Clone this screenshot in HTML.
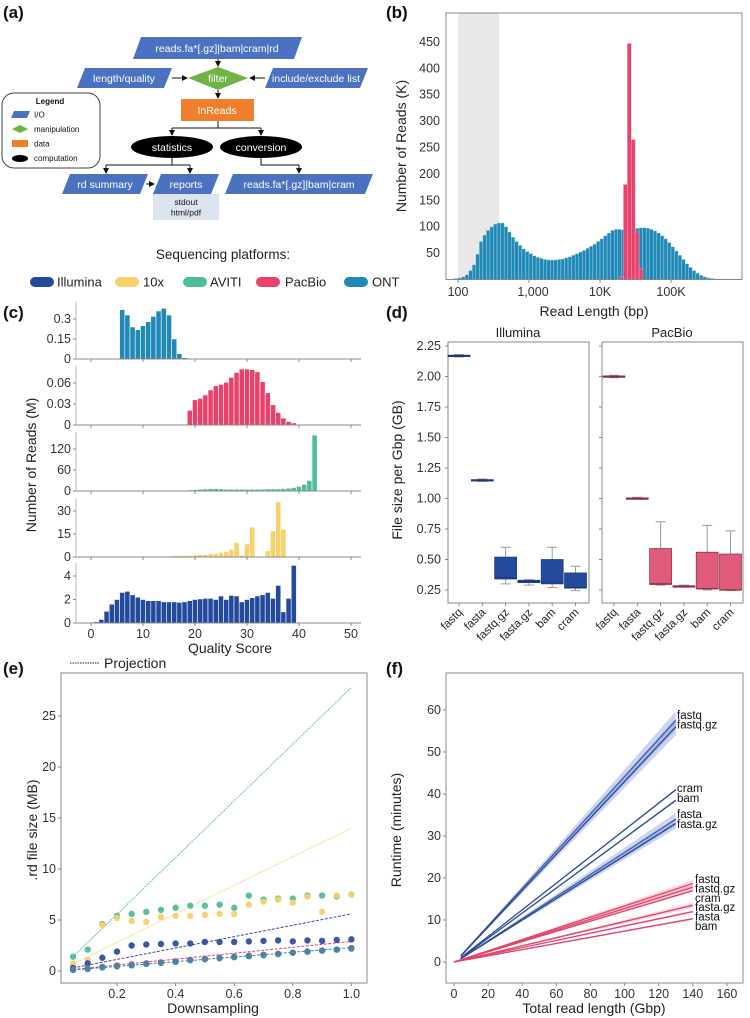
<!DOCTYPE html>
<html><head><meta charset="utf-8"><style>
html,body{margin:0;padding:0;background:#fff;}
svg{display:block;font-family:"Liberation Sans",sans-serif;}
</style></head><body>
<svg id="fig" width="750" height="1018" viewBox="0 0 750 1018">
<defs><marker id="arr" markerWidth="6" markerHeight="6" refX="5" refY="3" orient="auto"><path d="M0,0 L6,3 L0,6 z" fill="#111"/></marker></defs>
<g font-size="10.5">
<text x="3" y="18" font-size="17" font-weight="bold" fill="#111">(a)</text>
<polygon points="141,37 302,37 294,59 133,59" fill="#4a72c0"/>
<text x="217" y="52" fill="#fff" text-anchor="middle">reads.fa*[.gz]|bam|cram|rd</text>
<line x1="218" y1="59" x2="218" y2="66" stroke="#111" marker-end="url(#arr)"/>
<polygon points="85,68 172,68 164,88 77,88" fill="#4a72c0"/>
<text x="124" y="82" fill="#fff" text-anchor="middle">length/quality</text>
<line x1="172" y1="78" x2="187" y2="78" stroke="#111" marker-end="url(#arr)"/>
<polygon points="188,78 218,67 248,78 218,90" fill="#6fb345"/>
<text x="218" y="82" fill="#fff" text-anchor="middle">filter</text>
<polygon points="273,68 368,68 360,88 265,88" fill="#4a72c0"/>
<text x="316" y="82" fill="#fff" text-anchor="middle">include/exclude list</text>
<line x1="265" y1="78" x2="250" y2="78" stroke="#111" marker-end="url(#arr)"/>
<line x1="218" y1="90" x2="218" y2="98" stroke="#111" marker-end="url(#arr)"/>
<rect x="181" y="99" width="73" height="22" fill="#f07f2c"/>
<text x="217" y="114" fill="#fff" text-anchor="middle">InReads</text>
<path d="M218,121 V128 M172,128 H261" stroke="#111" fill="none"/>
<line x1="172" y1="128" x2="172" y2="135" stroke="#111" marker-end="url(#arr)"/>
<line x1="261" y1="128" x2="261" y2="135" stroke="#111" marker-end="url(#arr)"/>
<ellipse cx="172" cy="147" rx="41" ry="11" fill="#000"/>
<text x="172" y="151" fill="#fff" text-anchor="middle">statistics</text>
<ellipse cx="261" cy="147" rx="41" ry="11" fill="#000"/>
<text x="261" y="151" fill="#fff" text-anchor="middle">conversion</text>
<path d="M172,158 V165 M106,165 H190 M261,158 V165 H299" stroke="#111" fill="none"/>
<line x1="106" y1="165" x2="106" y2="173" stroke="#111" marker-end="url(#arr)"/>
<line x1="190" y1="165" x2="190" y2="173" stroke="#111" marker-end="url(#arr)"/>
<line x1="299" y1="165" x2="299" y2="173" stroke="#111" marker-end="url(#arr)"/>
<polygon points="70,174 148,174 140,194 62,194" fill="#4a72c0"/>
<text x="105" y="188" fill="#fff" text-anchor="middle">rd summary</text>
<line x1="146" y1="184" x2="154" y2="184" stroke="#111" marker-end="url(#arr)"/>
<polygon points="161,174 219,174 211,194 153,194" fill="#4a72c0"/>
<text x="186" y="188" fill="#fff" text-anchor="middle">reports</text>
<rect x="153" y="194" width="66" height="26" fill="#dce4f0"/>
<text x="186" y="205" fill="#111" font-size="8.5" text-anchor="middle">stdout</text>
<text x="186" y="215.5" fill="#111" font-size="8.5" text-anchor="middle">html/pdf</text>
<polygon points="233,174 373,174 365,194 225,194" fill="#4a72c0"/>
<text x="299" y="188" fill="#fff" text-anchor="middle">reads.fa*[.gz]|bam|cram</text>
<g font-size="8" fill="#111">
<rect x="2" y="93" width="98" height="75" rx="12" fill="#fff" stroke="#444"/>
<text x="50" y="104" text-anchor="middle" font-weight="bold">Legend</text>
<polygon points="14,111 30,111 27,118 11,118" fill="#4a72c0"/>
<text x="34" y="117.5">I/O</text>
<polygon points="12,129 20,125 28,129 20,133" fill="#6fb345"/>
<text x="34" y="132">manipulation</text>
<rect x="12" y="140" width="16" height="7" fill="#f07f2c"/>
<text x="34" y="146.5">data</text>
<ellipse cx="20" cy="158.5" rx="8" ry="3.5" fill="#000"/>
<text x="34" y="161">computation</text>
</g>
</g>
<g font-size="13" fill="#222">
<text x="223" y="259" font-size="13.5" text-anchor="middle">Sequencing platforms:</text>
<rect x="30" y="277" width="24" height="10" rx="5" fill="#234a9c"/><text x="57" y="286.5">Illumina</text>
<rect x="115" y="277" width="24" height="10" rx="5" fill="#f9d16b"/><text x="143" y="286.5">10x</text>
<rect x="183" y="277" width="24" height="10" rx="5" fill="#4dbf94"/><text x="210" y="286.5">AVITI</text>
<rect x="256" y="277" width="24" height="10" rx="5" fill="#e8426b"/><text x="285" y="286.5">PacBio</text>
<rect x="344" y="277" width="24" height="10" rx="5" fill="#2089b5"/><text x="372" y="286.5">ONT</text>
</g>
</svg>
<script>
// ---------- data ----------
const ontLenStartLog = 1.9;
const ontLenBinLog = 0.05;
const ontLenCounts = [1,2,3,5,9,17,28,48,72,84,93,100,105,107,107,100,90,80,72,65,58,53,49,45,42,40,38,37,37,37,38,39,41,43,46,49,52,55,59,63,67,72,77,83,88,93,95,95,94,93,94,95,97,98,98,97,95,92,88,83,77,70,62,54,46,38,30,23,17,12,8,5,3,2,1,1,0,0];
const pacLenStartLog = 4.275;
const pacLenBinLog = 0.055;
const pacLenCounts = [5,180,447,265,90,20];
const bYTicks = [50,100,150,200,250,300,350,400,450];
const bXTickVals = [2,3,4,5];
const bXTickLabels = ['100','1,000','10K','100K'];

const qTicks = [0,10,20,30,40,50];
const ontQStart = 6;
const ontQ = [0.37,0.33,0.24,0.22,0.25,0.28,0.32,0.36,0.38,0.33,0.15,0.04,0.01,0.003,0.002,0.002,0.002,0.002,0.002,0.002,0.002,0.002,0.002,0.001];
const pacQStart = 19;
const pacQ = [0.021,0.036,0.038,0.043,0.050,0.056,0.058,0.061,0.068,0.075,0.080,0.080,0.079,0.076,0.062,0.046,0.029,0.018,0.010,0.005,0.003,0.001];
const avitiQStart = 18;
const avitiQ = [2,3,4,5,6,7,7,6,5,5,5,5,5,5,5,5,6,6,6,7,8,10,13,19,30,160];
const tenxQStart = 14;
const tenxQ = [0.5,0.6,0.8,1,1,1,1.2,1.5,1.7,2,2.2,3,3.5,5,9.5,1,8.5,19.5,0,0,4,17,36,18];
const illQStart = 1;
const illQ = [0.1,0.3,1.0,1.6,2.0,2.6,2.7,2.4,2.2,2.0,1.9,1.9,1.9,1.8,1.8,1.8,1.75,1.8,1.9,2.0,2.05,2.1,2.1,2.0,2.3,2.0,2.35,2.3,1.8,2.0,2.15,2.3,2.4,2.6,2.1,3.2,0.95,2.1,4.9];
const ontQTicks = [0,0.15,0.3];
const pacQTicks = [0,0.03,0.06];
const avitiQTicks = [0,60,120];
const tenxQTicks = [0,15,30];
const illQTicks = [0,2,4];

const dCats = ['fastq','fasta','fastq.gz','fasta.gz','bam','cram'];
const dYTicks = [0.25,0.5,0.75,1.0,1.25,1.5,1.75,2.0,2.25];
// [min,q1,median,q3,max]
const illSizes = [[2.16,2.165,2.17,2.175,2.18],[1.14,1.145,1.15,1.155,1.16],[0.30,0.34,0.35,0.52,0.60],[0.29,0.31,0.32,0.33,0.335],[0.27,0.30,0.31,0.50,0.60],[0.245,0.265,0.27,0.39,0.445]];
const pacSizes = [[1.99,1.995,2.0,2.005,2.01],[0.995,1.0,1.0,1.005,1.01],[0.29,0.295,0.30,0.59,0.81],[0.275,0.278,0.28,0.285,0.29],[0.25,0.26,0.26,0.56,0.78],[0.245,0.25,0.25,0.545,0.735]];

const eX = [0.05,0.1,0.15,0.2,0.25,0.3,0.35,0.4,0.45,0.5,0.55,0.6,0.65,0.7,0.75,0.8,0.85,0.9,0.95,1.0];
const eAviti = [1.4,2.1,4.6,5.4,5.6,5.8,6.0,6.2,6.4,6.4,6.5,6.2,7.4,7.0,7.1,7.1,7.4,7.4,7.3,7.5];
const eTenx = [0.7,1.1,4.5,5.2,4.9,4.8,5.3,5.4,5.4,5.5,5.6,5.6,6.5,6.8,7.0,6.7,7.3,5.8,7.4,7.5];
const eIll = [0.3,0.75,1.3,1.9,2.5,2.6,2.65,2.7,2.7,2.85,2.85,2.85,2.9,2.95,3.0,2.9,3.0,2.95,3.05,3.1];
const ePac = [0.15,0.25,0.4,0.55,0.65,0.75,0.85,0.95,1.1,1.2,1.3,1.4,1.5,1.6,1.7,1.8,1.9,2.0,2.1,2.25];
const eOnt = [0.1,0.2,0.35,0.45,0.55,0.7,0.8,0.9,1.05,1.15,1.25,1.35,1.45,1.55,1.65,1.8,1.9,2.0,2.1,2.2];
const eProjStart = [1.4,0.7,0.3,0.15,0.1];
const eProjEnd = [27.8,14.0,5.6,2.9,2.3];
const eYTicks = [0,5,10,15,20,25];
const eXTicks = [0.2,0.4,0.6,0.8,1.0];

const fYTicks = [0,10,20,30,40,50,60];
const fXTicks = [0,20,40,60,80,100,120,140,160];
const fBlueNames = ['fastq','fastq.gz','cram','bam','fasta','fasta.gz'];
const fBlueStart = [1.5,1.4,1.0,0.9,0.8,0.8];
const fBlueEnd = [57.5,56.0,41.0,38.5,34.0,33.0];
const fBlueBand = [2.2,2.0,0.3,0.3,1.5,1.2];
const fPinkNames = ['fastq','fastq.gz','cram','fasta.gz','fasta','bam'];
const fPinkEnd = [18.7,17.8,17.0,13.5,12.0,10.3];
const fPinkBand = [0.8,0.6,0.3,0.6,0.3,0.3];
const fBlueStartX = 4, fBlueEndX = 130, fPinkStartX = 0, fPinkEndX = 140;

// ---------- helpers ----------
const NS='http://www.w3.org/2000/svg';
const svg=document.getElementById('fig');
function mk(tag, attrs, parent){const e=document.createElementNS(NS,tag);for(const k in attrs)e.setAttribute(k,attrs[k]);(parent||svg).appendChild(e);return e;}
function txt(s, attrs, parent){const e=mk('text',attrs,parent);e.textContent=s;return e;}
const C={ill:'#234a9c',tenx:'#f9d16b',aviti:'#4dbf94',pac:'#e8426b',ont:'#2089b5',axis:'#888',tick:'#333'};
const FS=12.5;
const TS=14;

// ---------- panel b ----------
const gb=mk('g',{});


const xB=v=>458+(v-2)*71;
const yB=v=>279.5-v*0.528;
let lb=txt('(b)',{x:386,y:18,'font-size':17,'font-weight':'bold',fill:'#111'},gb);


let band=mk('rect',{x:xB(2),y:13,width:xB(2.58)-xB(2),height:266,fill:'#e8e8e8'},gb);


ontLenCounts.forEach((v,i)=>{const l=ontLenStartLog+i*ontLenBinLog;const r=mk('rect',{x:xB(l),y:yB(v),width:xB(l+ontLenBinLog)-xB(l),height:yB(0)-yB(v),fill:C.ont,stroke:'#bfe0ee','stroke-width':0.4},gb);

});
pacLenCounts.forEach((v,i)=>{const l=pacLenStartLog+i*pacLenBinLog;const r=mk('rect',{x:xB(l),y:yB(v),width:xB(l+pacLenBinLog)-xB(l),height:yB(0)-yB(v),fill:C.pac,stroke:'#f8b8c8','stroke-width':0.4},gb);

});
let fb=mk('rect',{x:446,y:13,width:296,height:266.5,fill:'none',stroke:C.axis},gb);


bYTicks.forEach(v=>{const t=txt(String(v),{x:440,y:yB(v)+4,'font-size':FS,'text-anchor':'end',fill:C.tick},gb);

});
bXTickVals.forEach((v,i)=>{mk('line',{x1:xB(v),x2:xB(v),y1:279.5,y2:283,stroke:C.axis},gb);const t=txt(bXTickLabels[i],{x:xB(v)+(i==1?4:0),y:296,'font-size':FS,'text-anchor':'middle',fill:C.tick},gb);

});
let bxl=txt('Read Length (bp)',{x:594,y:316,'font-size':TS,'text-anchor':'middle',fill:'#222'},gb);


let byl=txt('Number of Reads (K)',{x:0,y:0,'font-size':TS,'text-anchor':'middle',fill:'#222',transform:'translate(406,146) rotate(-90)'},gb);



// ---------- panel c ----------
const gc=mk('g',{});


const xC=q=>91+q*5.2;
let lc=txt('(c)',{x:3,y:318,'font-size':17,'font-weight':'bold',fill:'#111'},gc);


const subs=[
 ['ont',ontQ,ontQStart,ontQTicks,359,302,40/0.3,C.ont],
 ['pacbio',pacQ,pacQStart,pacQTicks,425,366,42/0.06,C.pac],
 ['aviti',avitiQ,avitiQStart,avitiQTicks,491,432,42/120,C.aviti],
 ['10x',tenxQ,tenxQStart,tenxQTicks,557,498,46/30,C.tenx],
 ['illumina',illQ,illQStart,illQTicks,623,563,47/4,C.ill]];
subs.forEach(s=>{
  const [nm,vals,st,ticks,base,top,ppu,col]=s;
  const y=v=>base-v*ppu;
  const g=mk('g',{},gc);
  
  
  vals.forEach((v,i)=>{const q=st+i;const r=mk('rect',{x:xC(q-0.5),y:y(v),width:5.2,height:Math.max(0,base-y(v)),fill:col,stroke:'#fff','stroke-width':0.6},g);
  
  });
  mk('line',{x1:76,x2:76,y1:top,y2:base,stroke:'#bbb'},g);
  mk('line',{x1:76,x2:361,y1:base,y2:base,stroke:C.axis},g);
  qTicks.forEach(q=>mk('line',{x1:xC(q),x2:xC(q),y1:base,y2:base+3,stroke:C.axis},g));
  ticks.forEach(v=>{mk('line',{x1:73,x2:76,y1:y(v),y2:y(v),stroke:C.axis},g);const t=txt(String(v),{x:71,y:y(v)+4,'font-size':FS,'text-anchor':'end',fill:C.tick},g);
  
  });
});
qTicks.forEach(q=>{const t=txt(String(q),{x:xC(q),y:638,'font-size':FS,'text-anchor':'middle',fill:C.tick},gc);

});
let cxl=txt('Quality Score',{x:230,y:653,'font-size':TS,'text-anchor':'middle',fill:'#222'},gc);


let cyl=txt('Number of Reads (M)',{x:0,y:0,'font-size':TS,'text-anchor':'middle',fill:'#222',transform:'translate(36,465) rotate(-90)'},gc);



// ---------- panel d ----------
const gd=mk('g',{});


const yD=v=>590-(v-0.25)*122;
let ld=txt('(d)',{x:386,y:318,'font-size':17,'font-weight':'bold',fill:'#111'},gd);


[['Illumina',448,459,illSizes,C.ill,'#1a3a7a'],['PacBio',602,614,pacSizes,'#e05a7a','#8a2a44']].forEach(p=>{
  const [title,fx,cx0,data,col,dark]=p;
  const g=mk('g',{},gd);
  
  
  mk('rect',{x:fx,y:342,width:141,height:261,fill:'none',stroke:C.axis},g);
  const t=txt(title,{x:fx+70,y:337,'font-size':13,'text-anchor':'middle',fill:'#222'},g);
  
  
  dYTicks.forEach(v=>mk('line',{x1:fx-3,x2:fx,y1:yD(v),y2:yD(v),stroke:C.axis},g));
  data.forEach((b,i)=>{
    const cx=cx0+i*23.3;
    mk('line',{x1:cx,x2:cx,y1:603,y2:606,stroke:C.axis},g);
    mk('line',{x1:cx,x2:cx,y1:yD(b[4]),y2:yD(b[0]),stroke:'#999'},g);
    mk('line',{x1:cx-5,x2:cx+5,y1:yD(b[4]),y2:yD(b[4]),stroke:'#999'},g);
    mk('line',{x1:cx-5,x2:cx+5,y1:yD(b[0]),y2:yD(b[0]),stroke:'#999'},g);
    const r=mk('rect',{x:cx-11,y:yD(b[3]),width:22,height:Math.max(1.5,yD(b[1])-yD(b[3])),fill:col,stroke:dark,'stroke-width':0.7},g);
    
    
    mk('line',{x1:cx-11,x2:cx+11,y1:yD(b[2]),y2:yD(b[2]),stroke:dark,'stroke-width':1.2},g);
    const l=txt(dCats[i],{x:0,y:0,'font-size':11.5,'text-anchor':'end',fill:'#222',transform:`translate(${cx+4},${613}) rotate(-45)`},g);
    
    
  });
});
dYTicks.forEach(v=>{const t=txt(v.toFixed(2),{x:441,y:yD(v)+4,'font-size':FS,'text-anchor':'end',fill:C.tick},gd);

});
let dyl=txt('File size per Gbp (GB)',{x:0,y:0,'font-size':TS,'text-anchor':'middle',fill:'#222',transform:'translate(402,470) rotate(-90)'},gd);



// ---------- panel e ----------
const ge=mk('g',{});


const xE=v=>58.4+v*293;
const yE=v=>971-v*10.2;
let le=txt('(e)',{x:3,y:674,'font-size':17,'font-weight':'bold',fill:'#111'},ge);


mk('line',{x1:70,x2:100,y1:663,y2:663,stroke:'#222','stroke-dasharray':'1.5,1'},ge);
let pl=txt('Projection',{x:104,y:668,'font-size':14,fill:'#222'},ge);


let fe=mk('rect',{x:61,y:673,width:306,height:310,fill:'none',stroke:C.axis},ge);


eYTicks.forEach(v=>{mk('line',{x1:58,x2:61,y1:yE(v),y2:yE(v),stroke:C.axis},ge);const t=txt(String(v),{x:56,y:yE(v)+4,'font-size':FS,'text-anchor':'end',fill:C.tick},ge);

});
eXTicks.forEach(v=>{mk('line',{x1:xE(v),x2:xE(v),y1:983,y2:986,stroke:C.axis},ge);const t=txt(v.toFixed(1),{x:xE(v),y:998,'font-size':FS,'text-anchor':'middle',fill:C.tick},ge);

});
const eSeries=[['aviti',eAviti,C.aviti],['10x',eTenx,C.tenx],['illumina',eIll,'#2e4f9c'],['pacbio',ePac,C.pac],['ont',eOnt,'#3a8aa8']];
eSeries.forEach((s,k)=>{
  const l=mk('line',{x1:xE(eX[0]),y1:yE(eProjStart[k]),x2:xE(eX[eX.length-1]),y2:yE(eProjEnd[k]),stroke:s[2],'stroke-width':1,'stroke-dasharray':k<2?'1.5,1':'3,1.5'},ge);
  
  
});
eSeries.forEach(s=>{
  s[1].forEach((v,i)=>{const c=mk('circle',{cx:xE(eX[i]),cy:yE(v),r:3.2,fill:s[2],opacity:0.95},ge);
  
  });
});
let exl=txt('Downsampling',{x:213,y:1013,'font-size':TS,'text-anchor':'middle',fill:'#222'},ge);


let eyl=txt('.rd file size (MB)',{x:0,y:0,'font-size':TS,'text-anchor':'middle',fill:'#222',transform:'translate(37,830) rotate(-90)'},ge);



// ---------- panel f ----------
const gf=mk('g',{});


const xF=v=>454+v*1.706;
const yF=v=>962-v*4.2;
let lf=txt('(f)',{x:386,y:674,'font-size':17,'font-weight':'bold',fill:'#111'},gf);


let ff=mk('rect',{x:446,y:673,width:297,height:310,fill:'none',stroke:C.axis},gf);


fYTicks.forEach(v=>{mk('line',{x1:443,x2:446,y1:yF(v),y2:yF(v),stroke:C.axis},gf);const t=txt(String(v),{x:441,y:yF(v)+4,'font-size':FS,'text-anchor':'end',fill:C.tick},gf);

});
fXTicks.forEach(v=>{mk('line',{x1:xF(v),x2:xF(v),y1:983,y2:986,stroke:C.axis},gf);const t=txt(String(v),{x:xF(v),y:998,'font-size':FS,'text-anchor':'middle',fill:C.tick},gf);

});
function runLine(name,x0,y0,x1,y1,bw,col,bandCol){
  const p=mk('polygon',{points:`${xF(x0)},${yF(y0)} ${xF(x1)},${yF(y1+bw)} ${xF(x1)},${yF(y1-bw)}`,fill:bandCol},gf);
  
  
  const l=mk('line',{x1:xF(x0),y1:yF(y0),x2:xF(x1),y2:yF(y1),stroke:col,'stroke-width':1.3},gf);
  
  
}
fBlueEnd.forEach((v,i)=>runLine('illumina-'+fBlueNames[i],fBlueStartX,fBlueStart[i],fBlueEndX,v,fBlueBand[i],'#2a4a9a','rgba(110,135,210,0.35)'));
fPinkEnd.forEach((v,i)=>runLine('pacbio-'+fPinkNames[i],fPinkStartX,0,fPinkEndX,v,fPinkBand[i],'#e0436b','rgba(240,120,150,0.3)'));
const blueLabelY=[715,724.5,788,798,814,824];
fBlueNames.forEach((n,i)=>{const t=txt(n,{x:677,y:blueLabelY[i]+4,'font-size':11.5,fill:'#111'},gf);

});
const pinkLabelY=[879,888.5,898,907,916.5,926];
fPinkNames.forEach((n,i)=>{const t=txt(n,{x:695,y:pinkLabelY[i]+4,'font-size':11.5,fill:'#111'},gf);

});
let fxl=txt('Total read length (Gbp)',{x:594,y:1013,'font-size':TS,'text-anchor':'middle',fill:'#222'},gf);


let fyl=txt('Runtime (minutes)',{x:0,y:0,'font-size':TS,'text-anchor':'middle',fill:'#222',transform:'translate(401,830) rotate(-90)'},gf);


</script>
</body></html>
